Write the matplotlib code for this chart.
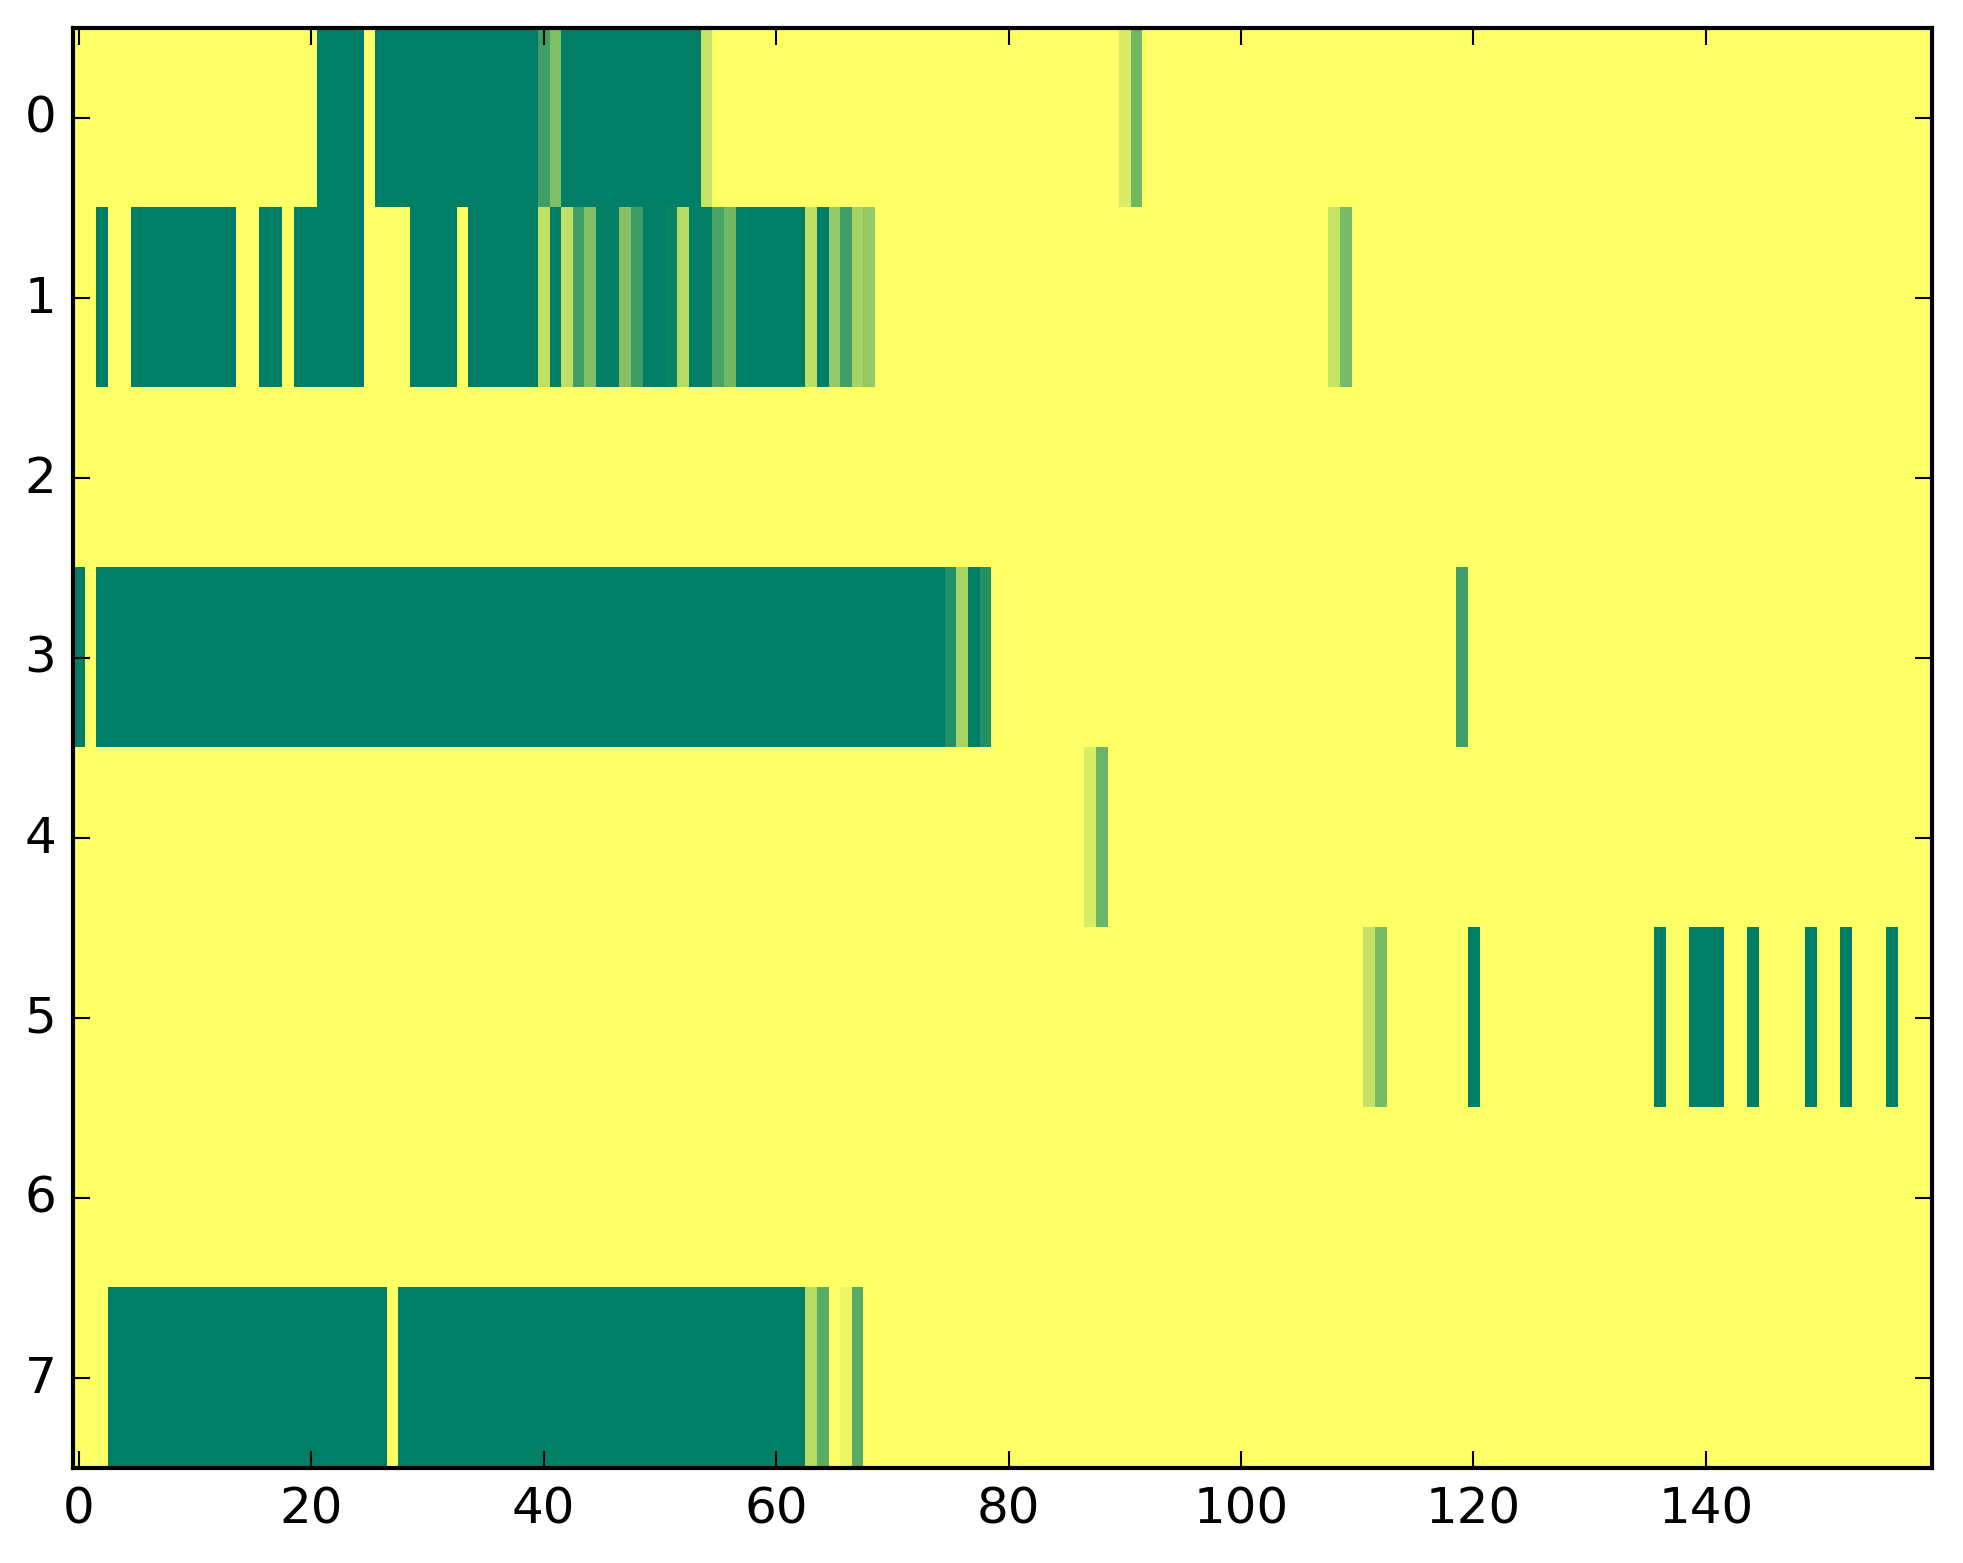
import matplotlib
matplotlib.use("Agg")
import matplotlib.pyplot as plt
import numpy as np

plt.style.use("classic")

n_cols = 160
n_rows = 8

# each row: runs of (first column, last column, value); everything else is 0
row0 = [(21, 24, 1), (26, 39, 1), (40, 40, 0.75), (41, 41, 0.5), (42, 53, 1),
        (54, 54, 0.22), (90, 90, 0.15), (91, 91, 0.56)]
row1 = [(2, 2, 1), (5, 13, 1), (16, 17, 1), (19, 24, 1), (29, 32, 1), (34, 39, 1),
        (40, 40, 0.25), (41, 41, 1), (42, 42, 0.25), (43, 43, 0.75), (44, 44, 0.5),
        (45, 46, 1), (47, 47, 0.47), (48, 48, 0.76), (49, 50, 1), (51, 51, 0.96),
        (52, 52, 0.28), (53, 54, 1), (55, 55, 0.71), (56, 56, 0.56), (57, 62, 1),
        (63, 63, 0.25), (64, 64, 1), (65, 65, 0.42), (66, 66, 0.75), (67, 67, 0.34),
        (68, 68, 0.42), (108, 108, 0.22), (109, 109, 0.53)]
row2 = []
row3 = [(0, 0, 1), (2, 74, 1), (75, 75, 0.87), (76, 76, 0.34), (77, 77, 1),
        (78, 78, 0.87), (119, 119, 0.75)]
row4 = [(87, 87, 0.15), (88, 88, 0.58)]
row5 = [(111, 111, 0.23), (112, 112, 0.53), (120, 120, 1), (136, 136, 1),
        (139, 141, 1), (144, 144, 1), (149, 149, 1), (152, 152, 1), (156, 156, 1)]
row6 = []
row7 = [(3, 26, 1), (28, 62, 1), (63, 63, 0.28), (64, 64, 0.65), (66, 66, 0.07),
        (67, 67, 0.65)]

rows = [row0, row1, row2, row3, row4, row5, row6, row7]

data = np.zeros((n_rows, n_cols))
for i, runs in enumerate(rows):
    for a, b, v in runs:
        data[i, a:b + 1] = v

fig = plt.figure(figsize=(1963 / 300, 1564 / 300), dpi=300)
ax = fig.add_axes([73 / 1963, 95.5 / 1564, 1859.5 / 1963, 1439.5 / 1564])
ax.imshow(data, cmap="summer_r", vmin=0, vmax=1, aspect="auto",
          interpolation="nearest")
ax.set_xticks(np.arange(0, 160, 20))
ax.set_yticks(np.arange(0, 8))
ax.set_xlim(-0.5, n_cols - 0.5)
ax.set_ylim(n_rows - 0.5, -0.5)

fig.savefig("out.png", dpi=300)
